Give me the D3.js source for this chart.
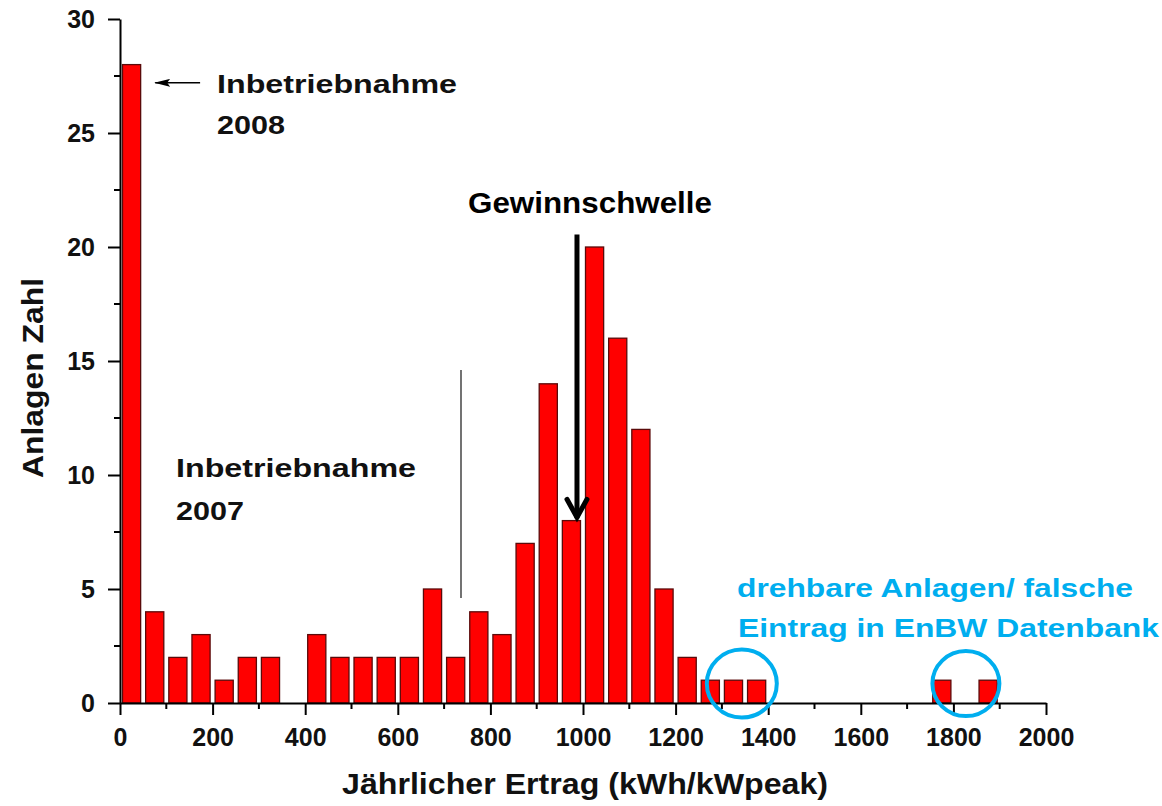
<!DOCTYPE html>
<html>
<head>
<meta charset="utf-8">
<script src="https://cdn.jsdelivr.net/npm/d3@7"></script>
<style>
  body { margin: 0; background: #fff; }
  svg text { font-family: "Liberation Sans", Arial, sans-serif; font-weight: bold; }
</style>
</head>
<body>
<div id="chart"></div>
<script>
// histogram bins (kWh/kWpeak), width 50
let binStarts = [0, 50, 100, 150, 200, 250, 300, 350, 400, 450, 500, 550, 600, 650, 700, 750, 800, 850, 900, 950,
                 1000, 1050, 1100, 1150, 1200, 1250, 1300, 1350, 1400, 1450, 1500, 1550, 1600, 1650, 1700, 1750, 1800, 1850, 1900, 1950]
let counts = [28, 4, 2, 3, 1, 2, 2, 0, 3, 2, 2, 2, 2, 5, 2, 4, 3, 7, 14, 8,
              20, 16, 12, 5, 2, 1, 1, 1, 0, 0, 0, 0, 0, 0, 0, 1, 0, 1, 0, 0]
let binWidth = 50
let xTicks = [0, 200, 400, 600, 800, 1000, 1200, 1400, 1600, 1800, 2000]
let yTicks = [0, 5, 10, 15, 20, 25, 30]

let width = 1162,
    height = 806

let svg = d3.select("#chart")
  .append("svg")
  .attr("width", width)
  .attr("height", height)

let x = d3.scaleLinear().domain([0, 2000]).range([120, 1046])
let y = d3.scaleLinear().domain([0, 30]).range([703, 19])

svg.append("defs").append("marker")
  .attr("id", "headThin")
  .attr("viewBox", "0 0 16 8")
  .attr("refX", 15).attr("refY", 4)
  .attr("markerWidth", 16).attr("markerHeight", 8)
  .attr("markerUnits", "userSpaceOnUse")
  .attr("orient", "auto")
  .append("path")
  .attr("d", "M0,0 L16,4 L0,8 L3,4 z")
  .attr("fill", "#000")

// bars
let bars = binStarts.map((b, i) => ({ start: b, value: counts[i] })).filter(d => d.value > 0)
let pad = 2.5
svg.append("g")
  .selectAll("rect")
  .data(bars)
  .enter()
  .append("rect")
  .attr("x", d => x(d.start) + pad)
  .attr("width", d => x(d.start + binWidth) - x(d.start) - 2 * pad)
  .attr("y", d => y(d.value))
  .attr("height", d => y(0) - y(d.value))
  .attr("fill", "#ff0000")
  .attr("stroke", "#5a0a0a")
  .attr("stroke-width", 1.3)

// x axis
let xAxis = svg.append("g").attr("transform", "translate(0," + y(0) + ")")
xAxis.call(d3.axisBottom(x).tickValues(xTicks).tickFormat(d3.format("d"))
  .tickSize(12).tickSizeOuter(0).tickPadding(13))
xAxis.selectAll("line, path").attr("stroke", "#000").attr("stroke-width", 2)
xAxis.selectAll("text").style("font-size", "25px").attr("fill", "#111")
svg.append("g").attr("transform", "translate(0," + y(0) + ")")
  .selectAll("line")
  .data(d3.range(100, 2000, 200))
  .enter().append("line")
  .attr("x1", d => x(d)).attr("x2", d => x(d))
  .attr("y1", 0).attr("y2", 6)
  .attr("stroke", "#000").attr("stroke-width", 2)

// y axis
let yAxis = svg.append("g").attr("transform", "translate(" + x(0) + ",0)")
yAxis.call(d3.axisLeft(y).tickValues(yTicks).tickSize(12).tickSizeOuter(0).tickPadding(13))
yAxis.selectAll("line, path").attr("stroke", "#000").attr("stroke-width", 2)
yAxis.selectAll("text").style("font-size", "25px").attr("fill", "#111")
svg.append("g").attr("transform", "translate(" + x(0) + ",0)")
  .selectAll("line")
  .data(d3.range(2.5, 30, 5))
  .enter().append("line")
  .attr("x1", -6).attr("x2", 0)
  .attr("y1", d => y(d)).attr("y2", d => y(d))
  .attr("stroke", "#000").attr("stroke-width", 2)

// text helper: stretched to the width seen in the picture
function stretched(str, px, py, size, color, len, anchor) {
  return svg.append("text")
    .attr("x", px).attr("y", py)
    .attr("text-anchor", anchor || "start")
    .attr("textLength", len)
    .attr("lengthAdjust", "spacingAndGlyphs")
    .style("font-size", size + "px")
    .attr("fill", color)
    .text(str)
}

// axis titles
stretched("Jährlicher Ertrag (kWh/kWpeak)", 342, 794, 29, "#111", 486)
stretched("Anlagen Zahl", 0, 0, 30, "#111", 200, "middle")
  .attr("transform", "translate(43,378) rotate(-90)")

// annotations
stretched("Inbetriebnahme", 217, 93, 26.5, "#111", 240)
stretched("2008", 217, 134, 26.5, "#111", 68)
svg.append("line")
  .attr("x1", x(173)).attr("x2", x(76))
  .attr("y1", y(27.2)).attr("y2", y(27.2))
  .attr("stroke", "#000").attr("stroke-width", 1.5)
  .attr("marker-end", "url(#headThin)")

stretched("Inbetriebnahme", 176, 477, 26.5, "#111", 240)
stretched("2007", 176, 520, 26.5, "#111", 68)

// thin separator line
svg.append("line")
  .attr("x1", x(736.5)).attr("x2", x(736.5))
  .attr("y1", y(14.6)).attr("y2", y(4.6))
  .attr("stroke", "#444").attr("stroke-width", 1.5)

// Gewinnschwelle arrow
stretched("Gewinnschwelle", 468, 213, 29, "#000", 244)
let ax = x(987)
svg.append("line")
  .attr("x1", ax).attr("x2", ax)
  .attr("y1", y(20.55)).attr("y2", y(8.1))
  .attr("stroke", "#000").attr("stroke-width", 5)
svg.append("path")
  .attr("d", "M" + (ax - 10) + "," + (y(8.1) - 19) + " L" + ax + "," + (y(8.1) - 1) + " L" + (ax + 10) + "," + (y(8.1) - 19))
  .attr("fill", "none")
  .attr("stroke", "#000").attr("stroke-width", 5)
  .attr("stroke-linecap", "round")

// blue notes
stretched("drehbare Anlagen/ falsche", 737, 597, 26, "#00aeef", 396)
stretched("Eintrag in EnBW Datenbank", 738, 637, 26, "#00aeef", 421)
let circles = [{ cx: 1343, cy: 0.85, rx: 35, ry: 34 }, { cx: 1827, cy: 0.85, rx: 33.5, ry: 32.5 }]
svg.append("g").selectAll("ellipse")
  .data(circles)
  .enter().append("ellipse")
  .attr("cx", d => x(d.cx)).attr("cy", d => y(d.cy))
  .attr("rx", d => d.rx).attr("ry", d => d.ry)
  .attr("fill", "none")
  .attr("stroke", "#00aeef").attr("stroke-width", 4)
</script>
</body>
</html>
